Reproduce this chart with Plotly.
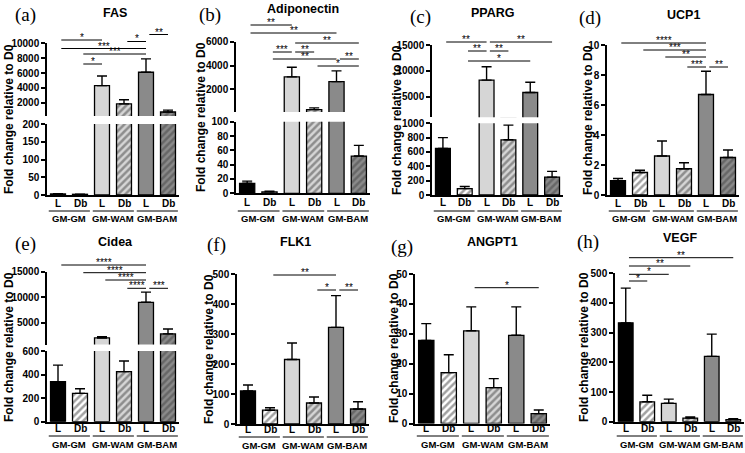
import plotly.graph_objects as go

W, H = 745, 453

# ---------------- data ----------------
bar_labels = ["L", "Db", "L", "Db", "L", "Db"]
group_labels = ["GM-GM", "GM-WAM", "GM-BAM"]

fas_mean = [3, 2, 4300, 1850, 6100, 750]
fas_err = [1, 0.5, 1300, 550, 1800, 250]
adipo_mean = [14, 2, 3050, 300, 2650, 52]
adipo_err = [3, 1, 800, 150, 900, 15]
pparg_mean = [650, 90, 8200, 770, 5800, 250]
pparg_err = [150, 30, 2600, 205, 2000, 80]
ucp1_mean = [0.95, 1.5, 2.6, 1.75, 6.7, 2.5]
ucp1_err = [0.15, 0.15, 1.0, 0.4, 1.55, 0.5]
cidea_mean = [340, 240, 2000, 425, 9000, 2800]
cidea_err = [140, 40, 250, 90, 2000, 950]
flk1_mean = [110, 46, 215, 70, 322, 50]
flk1_err = [20, 8, 55, 20, 106, 24]
angpt1_mean = [27.8, 17, 31, 12, 29.5, 3.3]
angpt1_err = [5.6, 6, 8, 3, 9.5, 1.2]
vegf_mean = [333, 67, 62, 12, 220, 7]
vegf_err = [117, 22, 14, 4, 75, 3]

# significance comparisons: (bar i, bar j, label)
fas_sig = [(0, 2, "*"), (0, 4, "***"), (1, 4, "***"), (1, 2, "*"), (3, 4, "*"), (4, 5, "**")]
adipo_sig = [(0, 2, "**"), (0, 4, "**"), (1, 2, "***"), (2, 5, "**"), (2, 3, "**"),
             (1, 4, "**"), (4, 5, "**"), (3, 5, "*")]
pparg_sig = [(0, 2, "**"), (2, 5, "**"), (1, 2, "**"), (2, 3, "**"), (1, 4, "*")]
ucp1_sig = [(0, 4, "****"), (1, 4, "***"), (2, 4, "**"), (3, 4, "***"), (4, 5, "**")]
cidea_sig = [(0, 4, "****"), (1, 4, "****"), (2, 4, "****"), (3, 4, "****"), (4, 5, "***")]
flk1_sig = [(1, 4, "**"), (3, 4, "*"), (4, 5, "**")]
angpt1_sig = [(2, 5, "*")]
vegf_sig = [(0, 1, "*"), (0, 2, "*"), (0, 3, "**"), (0, 5, "**")]

# tick values
fas_ticks_low = [0, 50, 100, 150, 200]
fas_ticks_high = [2000, 4000, 6000, 8000, 10000]
adipo_ticks_low = [0, 20, 40, 60, 80, 100]
adipo_ticks_high = [2000, 4000, 6000]
pparg_ticks_low = [0, 200, 400, 600, 800, 1000]
pparg_ticks_high = [5000, 10000, 15000]
ucp1_ticks = [0, 2, 4, 6, 8, 10]
cidea_ticks_low = [0, 200, 400, 600]
cidea_ticks_high = [5000, 10000, 15000]
flk1_ticks = [0, 100, 200, 300, 400, 500]
angpt1_ticks = [0, 10, 20, 30, 40, 50]
vegf_ticks = [0, 100, 200, 300, 400, 500]

# ---------------- style ----------------
SANS = "Liberation Sans"
SERIF = "Liberation Serif"
fill = ["#000000", "#ffffff", "#d6d6d6", "#d6d6d6", "#8a8a8a", "#8a8a8a"]
pat = ["", "/", "", "/", "", "/"]
pat_fg = ["#000000"] * 6

fig = go.Figure()
layout = {}
annotations = []
shapes = []
k = 0


def py(y):
    return 1 - y / H


def add_panel(title, tag, mean, err, segs, xpx, rows, sig, sig_px, title_pos, tag_pos, ytitle_pos):
    global k
    x_low = None
    idx = list(range(6))
    for si, (rng, pxb, pxt, ticks) in enumerate(segs):
        k += 1
        xn = "xaxis" if k == 1 else f"xaxis{k}"
        yn = "yaxis" if k == 1 else f"yaxis{k}"
        xr = "x" if k == 1 else f"x{k}"
        yr = "y" if k == 1 else f"y{k}"
        if si == 0:
            x_low = xr
        fig.add_trace(go.Bar(
            x=idx, y=mean, width=0.68,
            marker=dict(color=fill, line=dict(color="black", width=1.3),
                        pattern=dict(shape=pat, fgcolor=pat_fg, bgcolor=fill,
                                     size=5, solidity=0.5)),
            xaxis=xr, yaxis=yr, showlegend=False, hoverinfo="skip"))
        # error bars only for bars whose top lies inside this axis segment
        keep = [i for i in idx if rng[0] <= mean[i] <= rng[1]]
        if keep:
            fig.add_trace(go.Scatter(
                x=keep, y=[mean[i] for i in keep], mode="markers",
                marker=dict(size=1, color="rgba(0,0,0,0)"),
                error_y=dict(type="data", array=[err[i] for i in keep],
                             arrayminus=[0] * len(keep), symmetric=False,
                             color="black", thickness=1.4, width=5),
                xaxis=xr, yaxis=yr, showlegend=False, hoverinfo="skip", cliponaxis=True))
        layout[xn] = dict(domain=[xpx[0] / W, xpx[1] / W], range=[-0.5, 5.5], anchor=yr,
                          showline=(si == 0), linecolor="black", linewidth=1.5,
                          showticklabels=False, ticks="", showgrid=False, zeroline=False,
                          fixedrange=True, automargin=False)
        layout[yn] = dict(domain=[py(pxb), py(pxt)], range=list(rng), anchor=xr,
                          showline=True, linecolor="black", linewidth=1.5,
                          ticks="outside", ticklen=4, tickwidth=1.5, tickcolor="black",
                          tickvals=ticks, ticktext=[str(v) for v in ticks],
                          tickfont=dict(family=SANS, size=10, color="black", weight="bold"),
                          showgrid=False, zeroline=False, fixedrange=True, automargin=False)
    lab_y, line_y, grp_y = rows
    for i, lab in enumerate(bar_labels):
        annotations.append(dict(x=i, y=py(lab_y), xref=x_low, yref="paper", text=lab,
                                showarrow=False, xanchor="center", yanchor="middle",
                                font=dict(family=SANS, size=10, color="black", weight="bold")))
    for g, glab in enumerate(group_labels):
        shapes.append(dict(type="line", xref=x_low, yref="paper", x0=2 * g - 0.42, x1=2 * g + 1.45,
                           y0=py(line_y), y1=py(line_y), line=dict(color="black", width=1)))
        annotations.append(dict(x=2 * g + 0.5, y=py(grp_y), xref=x_low, yref="paper", text=glab,
                                showarrow=False, xanchor="center", yanchor="middle",
                                font=dict(family=SANS, size=9.5, color="black", weight="bold")))
    for (i, j, s), ly in zip(sig, sig_px):
        shapes.append(dict(type="line", xref=x_low, yref="paper", x0=i + 0.15, x1=j,
                           y0=py(ly), y1=py(ly), line=dict(color="black", width=1)))
        annotations.append(dict(x=(i + 0.15 + j) / 2, y=py(ly + 5), xref=x_low, yref="paper", text=s,
                                showarrow=False, xanchor="center", yanchor="bottom",
                                font=dict(family=SANS, size=10, color="black")))
    annotations.append(dict(x=title_pos[0] / W, y=py(title_pos[1]), xref="paper", yref="paper",
                            text=title, showarrow=False, xanchor="center", yanchor="middle",
                            font=dict(family=SANS, size=12.5, color="black", weight="bold")))
    annotations.append(dict(x=tag_pos[0] / W, y=py(tag_pos[1]), xref="paper", yref="paper",
                            text=tag, showarrow=False, xanchor="center", yanchor="middle",
                            font=dict(family=SERIF, size=19, color="black")))
    annotations.append(dict(x=ytitle_pos[0] / W, y=py(ytitle_pos[1]), xref="paper", yref="paper",
                            text="Fold change relative to D0", textangle=-90, showarrow=False,
                            xanchor="center", yanchor="middle",
                            font=dict(family=SANS, size=12, color="black", weight="bold")))


add_panel("FAS", "(a)", fas_mean, fas_err,
          [((0, 200), 195, 124, fas_ticks_low), ((200, 10000), 116.1, 43.3, fas_ticks_high)],
          (47, 179), (203, 211, 218.5), fas_sig, [40, 48.5, 54, 64, 41.5, 34.5],
          (115, 13), (25, 15), (9, 119))
add_panel("Adiponectin", "(b)", adipo_mean, adipo_err,
          [((0, 100), 193.3, 121.7, adipo_ticks_low), ((100, 6000), 112, 41.7, adipo_ticks_high)],
          (236, 370), (202, 211, 218.5), adipo_sig, [25, 33, 52, 43, 52, 59, 59, 66],
          (303, 9), (210, 15), (201, 117))
add_panel("PPARG", "(c)", pparg_mean, pparg_err,
          [((0, 1000), 195, 123.3, pparg_ticks_low), ((1000, 15000), 117.3, 45, pparg_ticks_high)],
          (432, 563), (202, 211, 218.5), pparg_sig, [42, 42, 51, 51, 61],
          (493, 13), (420, 17), (397, 120))
add_panel("UCP1", "(d)", ucp1_mean, ucp1_err,
          [((0, 10), 195, 45, ucp1_ticks)],
          (607, 739), (203, 211, 218.5), ucp1_sig, [43, 50, 57, 67, 67],
          (683, 15), (590, 18), (588, 120))
add_panel("Cidea", "(e)", cidea_mean, cidea_err,
          [((0, 600), 421.7, 351, cidea_ticks_low), ((700, 15000), 344.6, 271.7, cidea_ticks_high)],
          (47, 179), (428, 436, 444), cidea_sig, [265, 272.7, 280, 288.3, 288.3],
          (115, 242), (25, 244), (9, 347))
add_panel("FLK1", "(f)", flk1_mean, flk1_err,
          [((0, 500), 424, 274, flk1_ticks)],
          (237, 369), (429, 437, 445), flk1_sig, [275, 290, 290],
          (295, 242), (217, 245), (209, 349))
add_panel("ANGPT1", "(g)", angpt1_mean, angpt1_err,
          [((0, 50), 423.5, 274, angpt1_ticks)],
          (415, 550), (428, 436, 444), angpt1_sig, [287.7],
          (492, 242), (402, 247), (394, 348))
add_panel("VEGF", "(h)", vegf_mean, vegf_err,
          [((0, 500), 421.7, 273.3, vegf_ticks)],
          (615, 744), (428, 436, 444), vegf_sig, [281, 274.3, 266, 257.7],
          (680, 238), (588, 242), (584, 347))

fig.update_layout(width=W, height=H, autosize=False,
                  margin=dict(l=0, r=0, t=0, b=0, pad=0),
                  paper_bgcolor="white", plot_bgcolor="white",
                  bargap=0.3, annotations=annotations, shapes=shapes, **layout)
fig.write_html("out.html", config={"displayModeBar": False},
               post_script="document.body.style.margin='0';document.body.style.overflow='hidden';")
